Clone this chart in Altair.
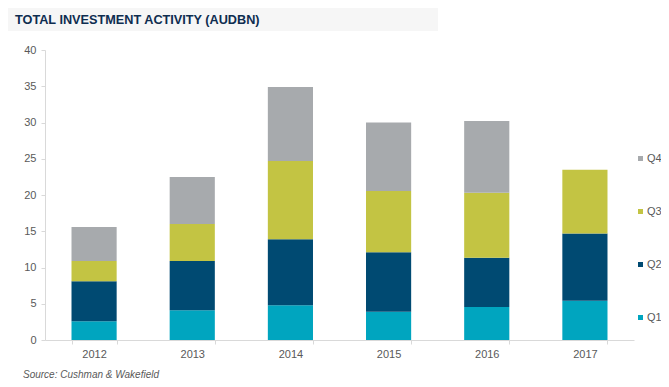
import altair as alt
import pandas as pd

years = ["2012", "2013", "2014", "2015", "2016", "2017"]
quarters = ["Q1", "Q2", "Q3", "Q4"]
q1 = [2.6, 4.1, 4.8, 3.9, 4.55, 5.4]
q2 = [5.5, 6.8, 9.1, 8.2, 6.8, 9.3]
q3 = [2.8, 5.1, 10.8, 8.45, 8.95, 8.8]
q4 = [4.7, 6.5, 10.2, 9.45, 9.9, None]
colors = {"Q1": "#00A5BF", "Q2": "#004A72", "Q3": "#C3C443", "Q4": "#A7AAAD"}

rows = []
for qi, (q, vals) in enumerate(zip(quarters, [q1, q2, q3, q4])):
    for y, v in zip(years, vals):
        if v is not None:
            rows.append({"year": y, "quarter": q, "value": v, "ord": qi})
df = pd.DataFrame(rows)

font = "Liberation Sans"
legend_order = ["Q4", "Q3", "Q2", "Q1"]

bars = alt.Chart(df).mark_bar().encode(
    x=alt.X("year:N", sort=years, title=None,
            scale=alt.Scale(paddingInner=0.54, paddingOuter=0.27),
            axis=alt.Axis(labelAngle=0, labelFontSize=11, labelColor="#595959",
                          labelFont=font, domainColor="#D9D9D9", tickColor="#D9D9D9",
                          tickSize=4, tickBand="extent", labelPadding=4, grid=False)),
    y=alt.Y("value:Q", stack="zero", title=None,
            scale=alt.Scale(domain=[0, 40], nice=False),
            axis=alt.Axis(values=[0, 5, 10, 15, 20, 25, 30, 35, 40], labelFontSize=11,
                          labelColor="#595959", labelFont=font, domainColor="#D9D9D9",
                          tickColor="#D9D9D9", tickSize=4, labelPadding=5, grid=False)),
    color=alt.Color("quarter:N",
                    scale=alt.Scale(domain=legend_order,
                                    range=[colors[q] for q in legend_order]),
                    legend=alt.Legend(title=None, orient="none", legendX=590, legendY=103,
                                      symbolType="square", symbolSize=25,
                                      symbolStrokeWidth=0, labelFontSize=11,
                                      labelColor="#595959", labelFont=font,
                                      rowPadding=41, labelOffset=1, padding=0)),
    order=alt.Order("ord:Q", sort="ascending"),
)

dummy = alt.Data(values=[{"a": 1}])

title_box = alt.Chart(dummy).mark_rect(color="#F6F6F6").encode(
    x=alt.value(-37), x2=alt.value(393), y=alt.value(-42), y2=alt.value(-19)
)
title_text = alt.Chart(dummy).mark_text(
    text="TOTAL INVESTMENT ACTIVITY (AUDBN)", font=font, fontSize=12.7,
    fontWeight="bold", color="#0E2D50", align="left", baseline="alphabetic"
).encode(x=alt.value(-30), y=alt.value(-26))
source_text = alt.Chart(dummy).mark_text(
    text="Source: Cushman & Wakefield", font=font, fontSize=10, fontStyle="italic",
    color="#595959", align="left", baseline="alphabetic"
).encode(x=alt.value(-22), y=alt.value(328))

chart = alt.layer(title_box, title_text, bars, source_text).properties(
    width=589, height=290,
    autosize=alt.AutoSizeParams(type="none"),
    padding={"left": 37, "top": 42, "right": 27, "bottom": 39},
).configure_view(stroke=None)

chart.save("out.html", embed_options={"renderer": "svg", "actions": False})
